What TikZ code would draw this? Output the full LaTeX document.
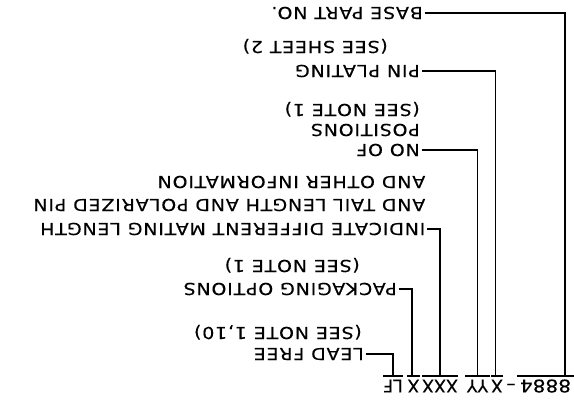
\documentclass[tikz,border=0pt]{standalone}
\usepackage{fontspec}
\newfontfamily\lblfam{DejaVu Sans}[FakeStretch=1.15,LetterSpace=5,FakeBold=0.3]
\newfontfamily\pnfam{DejaVu Sans}[FakeBold=0.3]
\newfontfamily\pnwidefam{DejaVu Sans}[FakeStretch=1.15,FakeBold=0.3]
\begin{document}
\begin{tikzpicture}[x=1pt,y=-1pt,
  lbl/.style={rotate=180, anchor=west, inner ysep=0pt, inner xsep=1.5pt,
    text height=12pt, text depth=0pt, font=\lblfam\fontsize{16.5}{18}\selectfont},
  pn/.style={rotate=180, anchor=south, inner ysep=0pt, inner xsep=0pt,
    text height=13pt, text depth=3.5pt, font=\pnfam\fontsize{17.5}{20}\selectfont},
  ln/.style={line width=1.4pt}]
\useasboundingbox (0,0) rectangle (574,405);
% part number pieces
\node[pn, minimum width=57pt, font=\pnwidefam\fontsize{17.5}{20}\selectfont] (p1) at (545.5,376) {8884};
\node[pn] (p2) at (511,376) {–};
\node[pn, minimum width=10pt] (p3) at (497,376) {X};
\node[pn, minimum width=25pt] (p4) at (477.5,376) {YY};
\node[pn, minimum width=35pt] (p5) at (440,376) {XXX};
\node[pn, minimum width=10pt] (p6) at (413.5,376) {X};
\node[pn, minimum width=18pt] (p7) at (393,376) {LF};
\coordinate (v1) at (565,376);
% bars
\foreach \p in {p1,p3,p4,p5,p6,p7}
  \draw[ln] (\p.south west) -- (\p.south east);
% labels
\node[lbl] (base) at (424.5,13) {BASE PART NO.};
\node[lbl] (pin1) at (421.5,71) {PIN PLATING};
\node[lbl] (pin2) at (389.5,47) {(SEE SHEET 2)};
\node[lbl] (noof1) at (421.5,150) {NO OF};
\node[lbl] (noof2) at (421.5,130) {POSITIONS};
\node[lbl] (noof3) at (421.5,110) {(SEE NOTE 1)};
\node[lbl] (ind1) at (427,229) {INDICATE DIFFERENT MATING LENGTH};
\node[lbl] (ind2) at (427,205) {AND TAIL LENGTH AND POLARIZED PIN};
\node[lbl] (ind3) at (427,182) {AND OTHER INFORMATION};
\node[lbl] (pack1) at (398.5,289) {PACKAGING OPTIONS};
\node[lbl] (pack2) at (361.5,266) {(SEE NOTE 1)};
\node[lbl] (lead1) at (365.5,354) {LEAD FREE};
\node[lbl] (lead2) at (363.5,333) {(SEE NOTE 1,10)};
% leaders
\draw[ln] (base.west) -| (v1);
\draw[ln] (pin1.west) -| ([xshift=-1.5pt]p3.south);
\draw[ln] (noof1.west) -| (p4.south);
\draw[ln] (ind1.west) -| (p5.south);
\draw[ln] (pack1.west) -| ([xshift=-1.5pt]p6.south);
\draw[ln] (lead1.west) -| (p7.south);
\end{tikzpicture}
\end{document}
